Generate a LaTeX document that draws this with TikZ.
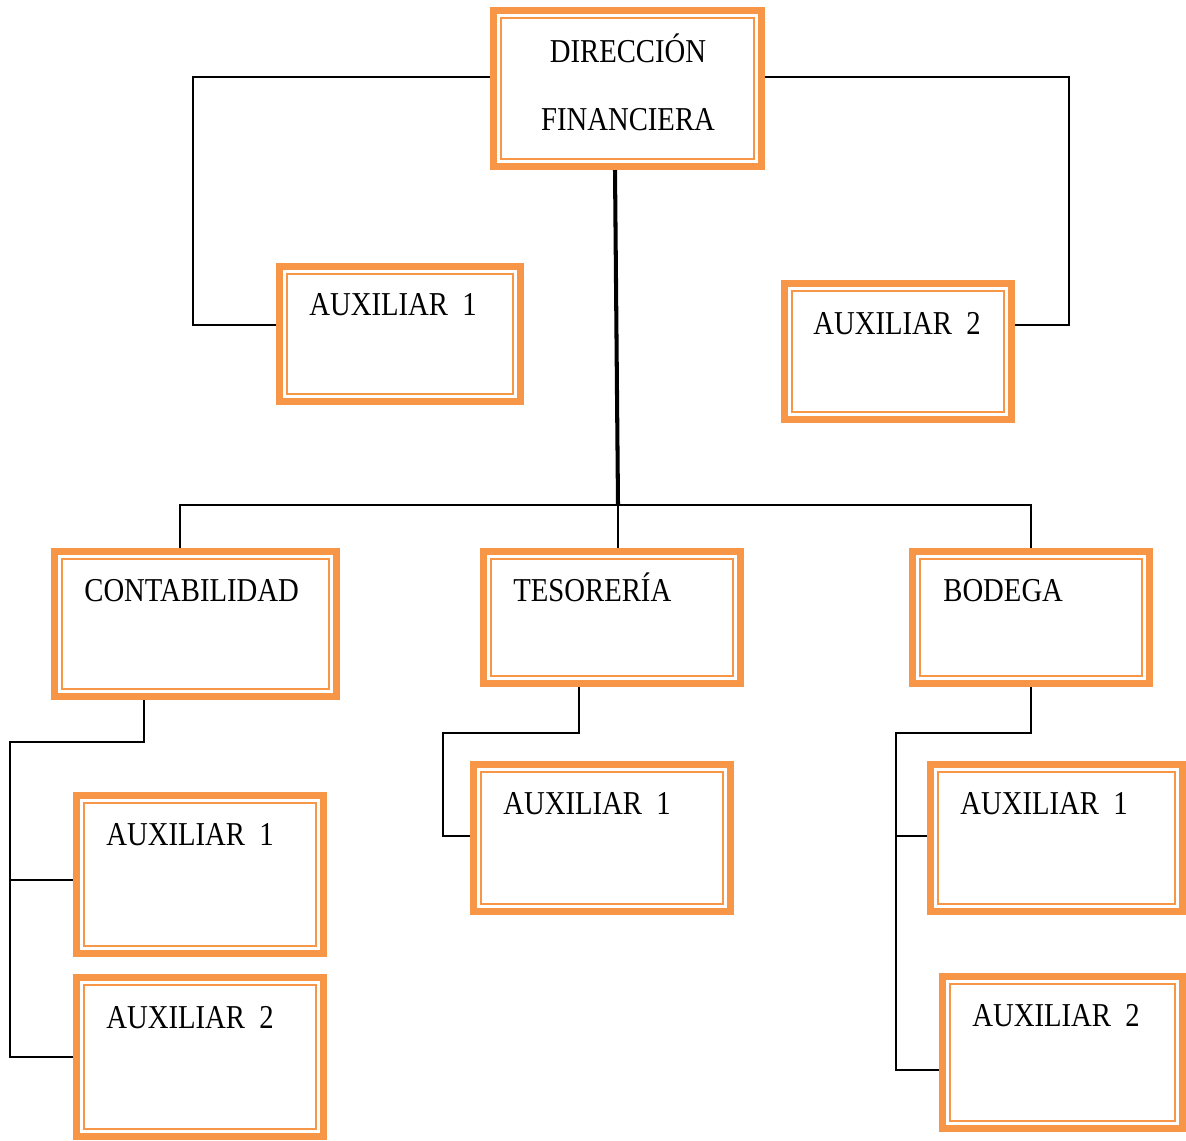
\documentclass[tikz,border=0pt]{standalone}
\usepackage{fontspec}
\setmainfont[FakeStretch=0.86]{Liberation Serif}
\usepackage{tikz}
\usetikzlibrary{calc, fit}
\usepackage{xcolor}
\definecolor{orgc}{HTML}{F79646}

\tikzset{
	orgbox/.style = {draw=orgc, line width=4.2pt, inner sep=0pt,
		path picture={\draw [orgc, line width=1.1pt]
			([shift={(4.3pt,-4.3pt)}]path picture bounding box.north west) rectangle
			([shift={(-4.3pt,4.3pt)}]path picture bounding box.south east);}},
	lbl/.style = {inner sep=0pt, font=\fontsize{19}{23}\selectfont},
	conn/.style = {line width=1.1pt, black},
	trunk/.style = {line width=2.3pt, black}
}

\begin{document}
\begin{tikzpicture}[x=0.02cm, y=-0.02cm]
	\useasboundingbox (0,0) rectangle (1186,1140);

	\node [orgbox, fit={(493.5,10.5) (761.5,166.5)}] (dir) {};
	\node [lbl, anchor=base] (dirA) at (628,62) {DIRECCIÓN};
	\node [lbl, anchor=base] (dirB) at (628,130) {FINANCIERA};

	\node [orgbox, fit={(279.5,266.5) (520.5,401.5)}] (aux1) {};
	\node [lbl, anchor=base west] (aux1t) at (309,315) {AUXILIAR\ \ 1};
	\node [orgbox, fit={(784.5,283.5) (1011.5,419.5)}] (aux2) {};
	\node [lbl, anchor=base west] (aux2t) at (813,334) {AUXILIAR\ \ 2};

	\node [orgbox, fit={(54.5,551.5) (336.5,696.5)}] (cont) {};
	\node [lbl, anchor=base west] (contt) at (84,601) {CONTABILIDAD};
	\node [orgbox, fit={(483.5,551.5) (740.5,683.5)}] (tes) {};
	\node [lbl, anchor=base west] (test) at (513,601) {TESORERÍA};
	\node [orgbox, fit={(912.5,551.5) (1149.5,683.5)}] (bod) {};
	\node [lbl, anchor=base west] (bodt) at (943,601) {BODEGA};

	\node [orgbox, fit={(76.5,795.5) (323.5,953.5)}] (cont1) {};
	\node [lbl, anchor=base west] (cont1t) at (106,845) {AUXILIAR\ \ 1};
	\node [orgbox, fit={(76.5,977.5) (323.5,1136.5)}] (cont2) {};
	\node [lbl, anchor=base west] (cont2t) at (106,1028) {AUXILIAR\ \ 2};

	\node [orgbox, fit={(473.5,764.5) (730.5,911.5)}] (tes1) {};
	\node [lbl, anchor=base west] (tes1t) at (503,814) {AUXILIAR\ \ 1};

	\node [orgbox, fit={(930.5,764.5) (1182.5,911.5)}] (bod1) {};
	\node [lbl, anchor=base west] (bod1t) at (960,814) {AUXILIAR\ \ 1};
	\node [orgbox, fit={(942.5,976.5) (1182.5,1128.5)}] (bod2) {};
	\node [lbl, anchor=base west] (bod2t) at (972,1026) {AUXILIAR\ \ 2};

	\draw [conn] (dir.west) ++(0,-11.5) -| (193,325) -- ([yshift=0.18cm]aux1.west);
	\draw [conn] (dir.east) ++(0,-11.5) -| (1069,325) -- ([yshift=0.53cm]aux2.east);

	\coordinate (fork) at (618,505);
	\draw [trunk] ([xshift=-0.25cm]dir.south) -- (fork);
	\draw [conn] ([xshift=-0.31cm]cont.north) -- ++(0,-43) -| (bod.north);
	\draw [conn] (fork) -- ([xshift=0.12cm]tes.north);

	\draw [conn] ([xshift=-1.03cm]cont.south) |- (10,742) |- (cont2.west);
	\draw [conn] (10,880) -- ([yshift=-0.11cm]cont1.west);

	\draw [conn] ([xshift=-0.66cm]tes.south) |- (443,733) |- ([yshift=0.04cm]tes1.west);

	\draw [conn] (bod.south) |- (896,733) |- ([yshift=-0.35cm]bod2.west);
	\draw [conn] (896,836) -- ([yshift=0.04cm]bod1.west);
\end{tikzpicture}
\end{document}
